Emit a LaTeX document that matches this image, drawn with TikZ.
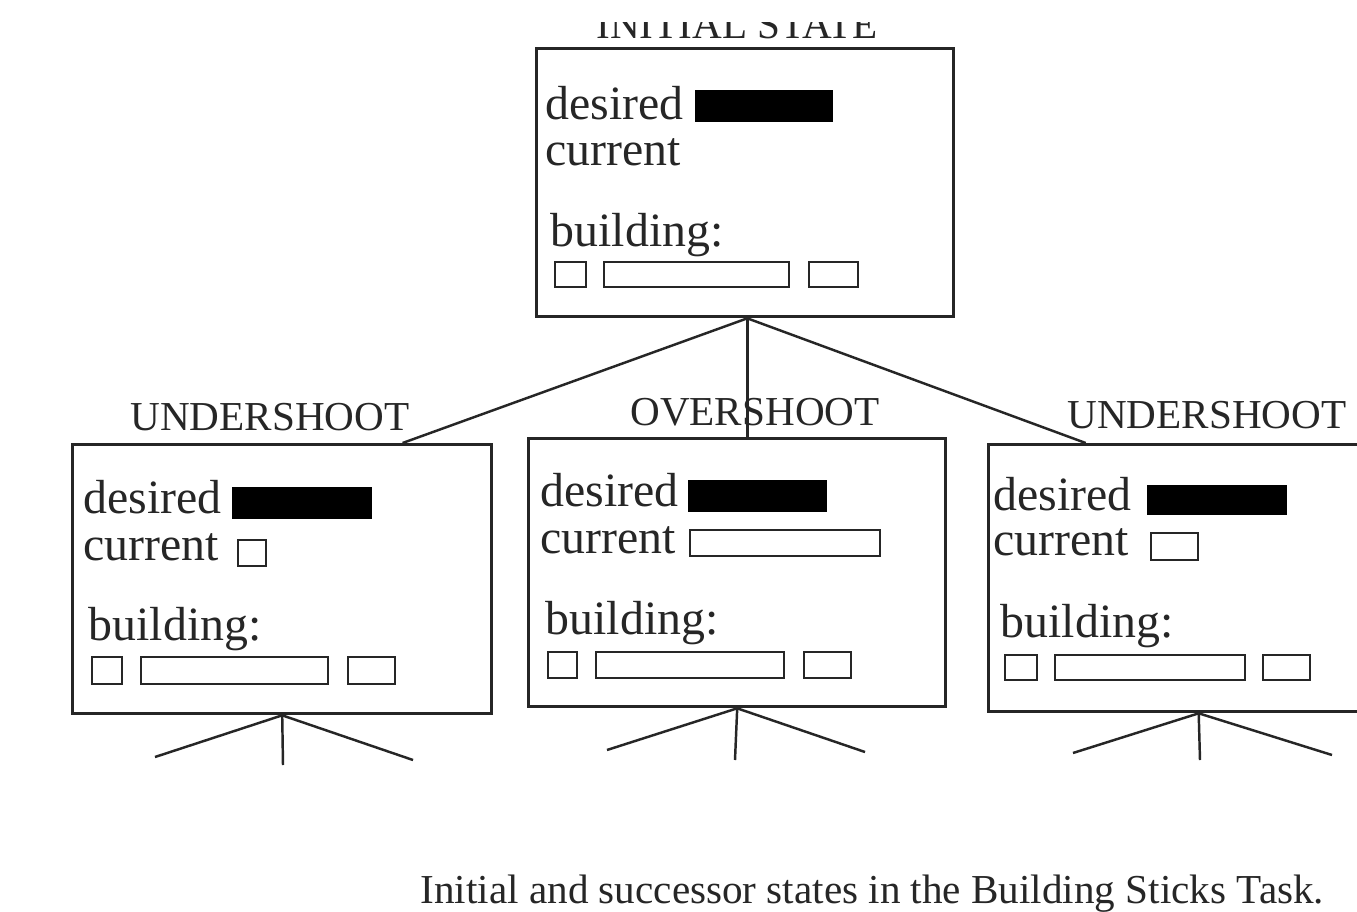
\documentclass[tikz,border=0pt]{standalone}
\usepackage{fontspec}
\setmainfont{Liberation Serif}
\usetikzlibrary{calc}

\tikzset{
  statebox/.style={draw=black!85, line width=0.9pt, inner sep=0pt, anchor=north west},
  stick/.style={draw=black!85, line width=0.65pt},
  goal/.style={fill=black},
  lbl/.style={anchor=base west, inner sep=0pt, text=black!85, font=\fontsize{13.6}{15}\selectfont},
  title/.style={anchor=base, inner sep=0pt, text=black!85, font=\fontsize{11.7}{13}\selectfont},
  link/.style={draw=black!85, line width=0.7pt}
}

\begin{document}
\begin{tikzpicture}[x=0.01cm, y=-0.01cm]
    \clip (0,0) rectangle (1357,912);
    \fill[white] (0,0) rectangle (1357,912);

    % Ausgangszustand
    \node[statebox, minimum width=4.17cm, minimum height=2.68cm] (init) at (535,47) {};
    \begin{scope}
        \clip (0,22) rectangle (1357,60);
        \node[title] (inittitle) at (737,38) {INITIAL STATE};
    \end{scope}
    \node[lbl] (initdes) at (545,120) {desired};
    \fill[goal] (695,90) rectangle (833,122);
    \node[lbl] (initcur) at (545,166) {current};
    \node[lbl] (initbld) at (550,246) {building:};
    \foreach \a/\b in {555/586, 604/789, 809/858}
        \draw[stick] (\a,262) rectangle (\b,287);

    % Nachfolger: undershoot links
    \node[statebox, minimum width=4.19cm, minimum height=2.69cm] (under1) at (71,443) {};
    \node[title] (u1title) at (270,430) {UNDERSHOOT};
    \node[lbl] (u1des) at (83,513) {desired};
    \fill[goal] (232,487) rectangle (372,519);
    \node[lbl] (u1cur) at (83,560) {current};
    \draw[stick] (238,540) rectangle (266,566);
    \node[lbl] (u1bld) at (88,640) {building:};
    \foreach \a/\b in {92/122, 141/328, 348/395}
        \draw[stick] (\a,657) rectangle (\b,684);

    % Nachfolger: overshoot
    \node[statebox, minimum width=4.17cm, minimum height=2.68cm] (over) at (527,437) {};
    \node[title] (ovtitle) at (755,425) {OVERSHOOT};
    \node[lbl] (ovdes) at (540,506) {desired};
    \fill[goal] (688,480) rectangle (827,512);
    \node[lbl] (ovcur) at (540,553) {current};
    \draw[stick] (690,530) rectangle (880,556);
    \node[lbl] (ovbld) at (545,634) {building:};
    \foreach \a/\b in {548/577, 596/784, 804/851}
        \draw[stick] (\a,652) rectangle (\b,678);

    % Nachfolger: undershoot rechts
    \node[statebox, minimum width=4.2cm, minimum height=2.67cm] (under2) at (987,443) {};
    \node[title] (u2title) at (1207,428) {UNDERSHOOT};
    \node[lbl] (u2des) at (993,510) {desired};
    \fill[goal] (1147,485) rectangle (1287,515);
    \node[lbl] (u2cur) at (993,555) {current};
    \draw[stick] (1151,533) rectangle (1198,560);
    \node[lbl] (u2bld) at (1000,637) {building:};
    \foreach \a/\b in {1005/1037, 1055/1245, 1263/1310}
        \draw[stick] (\a,655) rectangle (\b,680);

    % Kanten vom Ausgangszustand
    \coordinate (root) at ($(init.south west)!.505!(init.south east)$);
    \draw[link] (root) -- ($(under1.north west)!.785!(under1.north east)$);
    \draw[link] (root) -- (root |- over.north);
    \draw[link] (root) -- ($(under2.north west)!.233!(under2.north east)$);

    % offene Kanten darunter
    \coordinate (u1l) at (155,757);
    \coordinate (u1m) at (283,765);
    \coordinate (u1r) at (413,760);
    \coordinate (ovl) at (607,750);
    \coordinate (ovm) at (735,760);
    \coordinate (ovr) at (865,752);
    \coordinate (u2l) at (1073,753);
    \coordinate (u2m) at (1200,760);
    \coordinate (u2r) at (1332,755);
    \foreach \n/\c in {under1/u1, over/ov, under2/u2}
        \foreach \s in {l, m, r}
            \draw[link] (\n.south) -- (\c\s);

    % Bildunterschrift
    \node[anchor=base west, inner sep=0pt, text=black!85, font=\fontsize{11.7}{13}\selectfont] (caption) at (420,903)
        {Initial and successor states in the Building Sticks Task.};
\end{tikzpicture}
\end{document}
